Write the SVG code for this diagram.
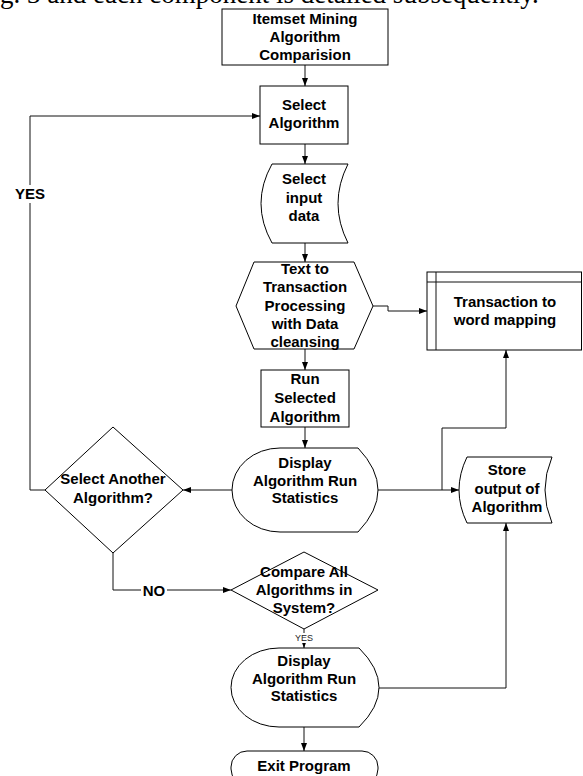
<svg xmlns="http://www.w3.org/2000/svg" width="583" height="776" viewBox="0 0 583 776">
<style>
.s{fill:#fff;stroke:#000;stroke-width:1}
.c{fill:none;stroke:#111;stroke-width:1}
.t{font-family:"Liberation Sans",Arial,sans-serif;font-weight:bold;font-size:15px;fill:#000;text-anchor:middle}
.sm{font-family:"Liberation Sans",Arial,sans-serif;font-size:9px;fill:#222;text-anchor:middle}
.hd{font-family:"Liberation Serif","Times New Roman",serif;font-size:27px;fill:#000}
</style>
<defs>
<marker id="ah" markerWidth="8" markerHeight="6" refX="8" refY="3" orient="auto" markerUnits="userSpaceOnUse">
<path d="M0,0 L8,3 L0,6 Z" fill="#000"/>
</marker>
</defs>
<rect width="583" height="776" fill="#fff"/>
<text class="hd" x="0" y="3">g. 3 and each component is detailed subsequently.</text>

<g id="connectors">
<path class="c" d="M305,65 V86" marker-end="url(#ah)"/>
<path class="c" d="M305,144 V164" marker-end="url(#ah)"/>
<path class="c" d="M305,243 V262" marker-end="url(#ah)"/>
<path class="c" d="M373,306 H388 V311 H427" marker-end="url(#ah)"/>
<path class="c" d="M305,349 V370" marker-end="url(#ah)"/>
<path class="c" d="M305,427 V448" marker-end="url(#ah)"/>
<path class="c" d="M232,490 H183" marker-end="url(#ah)"/>
<path class="c" d="M45,490 H30 V116 H260" marker-end="url(#ah)"/>
<path class="c" d="M378,490 H459" marker-end="url(#ah)"/>
<path class="c" d="M442,490 V428 H506 V350" marker-end="url(#ah)"/>
<path class="c" d="M113,553 V590 H231" marker-end="url(#ah)"/>
<path class="c" d="M304,629 V648" marker-end="url(#ah)"/>
<path class="c" d="M378,688 H506 V523" marker-end="url(#ah)"/>
<path class="c" d="M304,727 V751" marker-end="url(#ah)"/>
<rect x="13" y="185" width="34" height="18" fill="#fff"/>
<text class="t" x="30" y="199">YES</text>
<rect x="141" y="582" width="26" height="16" fill="#fff"/>
<text class="t" x="154" y="596">NO</text>
<rect x="294" y="633" width="20" height="10" fill="#fff"/>
<text class="sm" x="304" y="641">YES</text>
</g>

<g id="start">
<rect class="s" x="222" y="9" width="166" height="56"/>
<text class="t" x="305" y="24">Itemset Mining</text>
<text class="t" x="305" y="42">Algorithm</text>
<text class="t" x="305" y="60">Comparision</text>
</g>

<g id="select-algorithm">
<rect class="s" x="260" y="86" width="88" height="58"/>
<text class="t" x="304" y="110">Select</text>
<text class="t" x="304" y="128">Algorithm</text>
</g>

<g id="select-input">
<path class="s" d="M272,164 H348 Q328,203.5 348,243 H272 Q250,203.5 272,164 Z"/>
<text class="t" x="304" y="184">Select</text>
<text class="t" x="304" y="203">input</text>
<text class="t" x="304" y="221">data</text>
</g>

<g id="text-to-transaction">
<path class="s" d="M236,306 L254,262 H354 L373,306 L354,349 H254 Z"/>
<text class="t" x="305" y="274">Text to</text>
<text class="t" x="305" y="292">Transaction</text>
<text class="t" x="305" y="311">Processing</text>
<text class="t" x="305" y="329">with Data</text>
<text class="t" x="305" y="347">cleansing</text>
</g>

<g id="transaction-mapping">
<rect class="s" x="427" y="272" width="154.5" height="78"/>
<path class="c" d="M436,272 V350 M427,282 H581.5"/>
<text class="t" x="505" y="307">Transaction to</text>
<text class="t" x="505" y="325">word mapping</text>
</g>

<g id="run-selected">
<rect class="s" x="261" y="370" width="88" height="57"/>
<text class="t" x="305" y="384">Run</text>
<text class="t" x="305" y="403">Selected</text>
<text class="t" x="305" y="422">Algorithm</text>
</g>

<g id="display-1">
<path class="s" d="M280,448 H358 Q398,490 358,532 H280 A48,42 0 0 1 232,490 A48,42 0 0 1 280,448 Z"/>
<text class="t" x="305" y="468">Display</text>
<text class="t" x="305" y="486">Algorithm Run</text>
<text class="t" x="305" y="503">Statistics</text>
</g>

<g id="select-another">
<path class="s" d="M113,427 L183,490 L113,553 L45,490 Z"/>
<text class="t" x="113" y="484">Select Another</text>
<text class="t" x="113" y="503">Algorithm?</text>
</g>

<g id="store-output">
<path class="s" d="M467,457 H552 Q538,490 552,523 H467 Q451,490 467,457 Z"/>
<text class="t" x="507" y="475">Store</text>
<text class="t" x="507" y="494">output of</text>
<text class="t" x="507" y="512">Algorithm</text>
</g>

<g id="compare-all">
<path class="s" d="M304,552 L378,590 L304,629 L231,590 Z"/>
<text class="t" x="304" y="577">Compare All</text>
<text class="t" x="304" y="595">Algorithms in</text>
<text class="t" x="304" y="613">System?</text>
</g>

<g id="display-2">
<path class="s" d="M279,648 H359 Q399,687.5 359,727 H279 A48,39.5 0 0 1 231,687.5 A48,39.5 0 0 1 279,648 Z"/>
<text class="t" x="304" y="666">Display</text>
<text class="t" x="304" y="684">Algorithm Run</text>
<text class="t" x="304" y="701">Statistics</text>
</g>

<g id="exit">
<rect class="s" x="231" y="751" width="147" height="34" rx="16" ry="16"/>
<text class="t" x="304" y="771">Exit Program</text>
</g>
</svg>
